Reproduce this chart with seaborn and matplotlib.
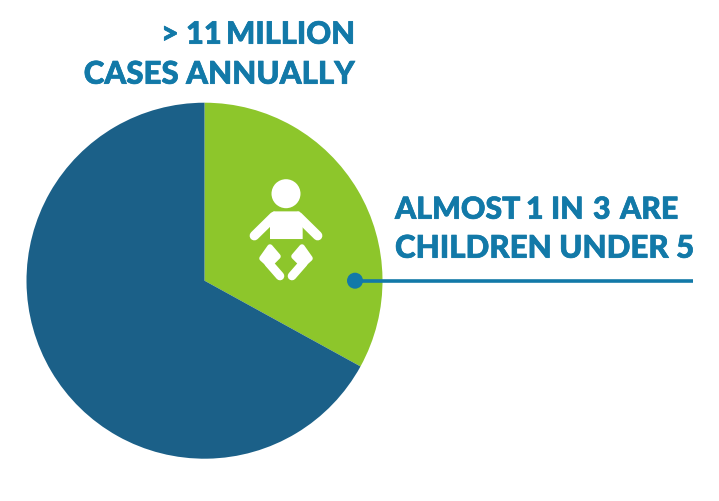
import seaborn as sns
import matplotlib.pyplot as plt
import matplotlib.patheffects as pe
from matplotlib.patches import Circle, Polygon

shares = [33, 67]
slice_colors = ["#8DC62B", "#1B6088"]
title_words = [">", "11", "MILLION"]
title_line2 = "CASES ANNUALLY"
callout_words = ["ALMOST", "1", "IN", "3", "ARE"]
callout_line2 = "CHILDREN UNDER 5"

BLUE = "#1279A8"
H = 501.3

sns.set_theme(style="white")
plt.rcParams['font.family'] = ['Lato', 'DejaVu Sans']

fig = plt.figure(figsize=(7.19, 5.02), dpi=100)
ax = fig.add_axes([0, 0, 1, 1])

ax.pie(shares, colors=slice_colors, startangle=90, counterclock=False,
       center=(204.5, H - 281), radius=178, frame=True,
       wedgeprops={'linewidth': 0})
ax.set_xlim(0, 719)
ax.set_ylim(0, 502)
ax.set_aspect('equal')
ax.axis('off')

fat = [pe.withStroke(linewidth=0.5, foreground=BLUE)]


def label(x, y, s, ha='left', size=22.2):
    ax.text(x, H - y, s, color=BLUE, fontsize=size, fontweight='black', ha=ha, va='baseline',
            path_effects=fat)


# words placed one by one, Lato digits run wider than the original face
for x, w in zip([161, 186, 226], title_words):
    label(x, 44, w)
label(355, 84, title_line2, ha='right', size=22.5)
for x, w in zip([395, 526, 551, 593, 620], callout_words):
    label(x, 219, w, size=21.8)
label(395, 258, callout_line2, size=22.5)

# leader line
ax.plot([355, 693], [H - 281, H - 281], color=BLUE, lw=2.6, solid_capstyle='butt', zorder=5)
ax.add_patch(Circle((355, H - 281), 8, color=BLUE, lw=0, zorder=6))


# baby icon
def z(px, py):
    # zoom crop coords -> axes coords
    return (230 + px / 3, H - (160 + py / 3))


white = "white"
ax.add_patch(Circle(z(168, 102), 14.5, color=white, lw=0, zorder=4))
body = [(120, 238), (218, 238), (218, 190), (208, 155), (130, 155), (120, 190)]
ax.add_patch(Polygon([z(*p) for p in body], closed=True, color=white, lw=0, zorder=4))
for sx in (-1, 1):
    m = lambda x: 168 + sx * (x - 168)
    ax.plot(*zip(z(m(132), 170), z(m(73), 228)), color=white, lw=6.8,
            solid_capstyle='round', zorder=4)
    leg = [(120, 262), (144, 290), (118, 316), (96, 296)]
    ax.add_patch(Polygon([z(m(x), y) for x, y in leg], closed=True, facecolor=white,
                         edgecolor=white, lw=4, joinstyle='round', zorder=4))
    ax.plot(*zip(z(m(116), 310), z(m(150), 349)), color=white, lw=6.2,
            solid_capstyle='round', zorder=4)

fig.savefig("out.png", dpi=100)
